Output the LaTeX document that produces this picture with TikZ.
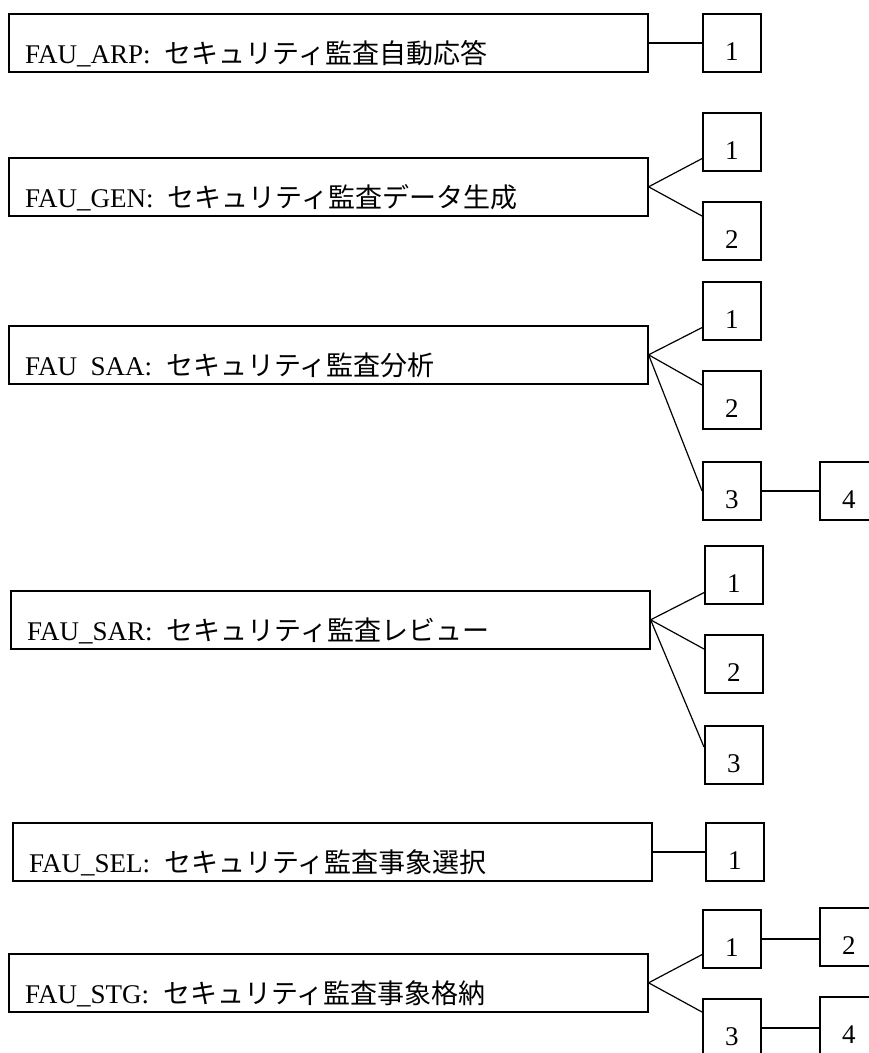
\documentclass[tikz,border=0pt]{standalone}
\usepackage{fontspec}
\setmainfont{Liberation Serif}
\newfontfamily\jpfont{Noto Sans CJK JP}
\usetikzlibrary{calc}
\newcommand\faulbl[2]{#1\hspace{14pt}{\jpfont #2}}
\begin{document}
\begin{tikzpicture}[x=1pt,y=-1pt,
  bigbox/.style={draw, line width=1.6pt, minimum width=639pt, minimum height=58pt, inner sep=0pt, anchor=north west},
  numbox/.style={draw, line width=1.6pt, minimum width=58pt, minimum height=58pt, inner sep=0pt, anchor=north west, text height=47pt, text depth=11pt, font=\fontsize{27pt}{30pt}\selectfont},
  lbl/.style={anchor=base west, inner sep=0pt, font=\fontsize{27pt}{30pt}\selectfont},
  conn/.style={line width=1.6pt},
  fan/.style={line width=1.2pt}]
\useasboundingbox (0,0) rectangle (869,1053);
\clip (0,0) rectangle (869,1053);
\fill[white] (0,0) rectangle (869,1053);

% FAU_ARP
\node[bigbox] (A) at (8,13) {};
\node[numbox] (A1) at (702,13) {1};
\node[lbl] (At) at ([xshift=17pt,yshift=9pt]A.south west) {\faulbl{FAU\_ARP:}{セキュリティ監査自動応答}};
\draw[conn] (A.east) -- (A1.west);

% FAU_GEN
\node[bigbox] (G) at (8,157) {};
\node[numbox] (G1) at (702,112) {1};
\node[numbox] (G2) at (702,201) {2};
\node[lbl] (Gt) at ([xshift=17pt,yshift=9pt]G.south west) {\faulbl{FAU\_GEN:}{セキュリティ監査データ生成}};
\draw[fan] ([yshift=13pt]G1.south west) -- (G.east) -- ([yshift=-15pt]G2.north west);

% FAU_SAA
\node[bigbox] (S) at (8,325) {};
\node[numbox] (S1) at (702,281) {1};
\node[numbox] (S2) at (702,370) {2};
\node[numbox] (S3) at (702,461) {3};
\node[numbox] (S4) at (819,461) {4};
\node[lbl] (St) at ([xshift=17pt,yshift=9pt]S.south west) {\faulbl{FAU\kern0.5em SAA:}{セキュリティ監査分析}};
\draw[fan] ([yshift=13pt]S1.south west) -- (S.east) -- ([yshift=-15pt]S2.north west);
\draw[fan] (S.east) -- (S3.west);
\draw[conn] (S3.east) -- (S4.west);

% FAU_SAR
\node[bigbox] (R) at (10,590) {};
\node[numbox] (R1) at (704,545) {1};
\node[numbox] (R2) at (704,634) {2};
\node[numbox] (R3) at (704,725) {3};
\node[lbl] (Rt) at ([xshift=17pt,yshift=9pt]R.south west) {\faulbl{FAU\_SAR:}{セキュリティ監査レビュー}};
\draw[fan] ([yshift=12pt]R1.south west) -- (R.east) -- ([yshift=-15pt]R2.north west);
\draw[fan] (R.east) -- ([yshift=-22pt]R3.north west);

% FAU_SEL
\node[bigbox] (E) at (12,822) {};
\node[numbox] (E1) at (705,822) {1};
\node[lbl] (Et) at ([xshift=17pt,yshift=9pt]E.south west) {\faulbl{FAU\_SEL:}{セキュリティ監査事象選択}};
\draw[conn] (E.east) -- (E1.west);

% FAU_STG
\node[bigbox] (T) at (8,953) {};
\node[numbox] (T1) at (702,909) {1};
\node[numbox] (T2) at (819,907) {2};
\node[numbox] (T3) at (702,998) {3};
\node[numbox] (T4) at (819,996) {4};
\node[lbl] (Tt) at ([xshift=17pt,yshift=9pt]T.south west) {\faulbl{FAU\_STG:}{セキュリティ監査事象格納}};
\draw[fan] ([yshift=14pt]T1.south west) -- (T.east) -- ([yshift=-14pt]T3.north west);
\draw[conn] (T1.east) -- (T1.east -| T2.west);
\draw[conn] (T3.east) -- (T3.east -| T4.west);
\end{tikzpicture}
\end{document}
